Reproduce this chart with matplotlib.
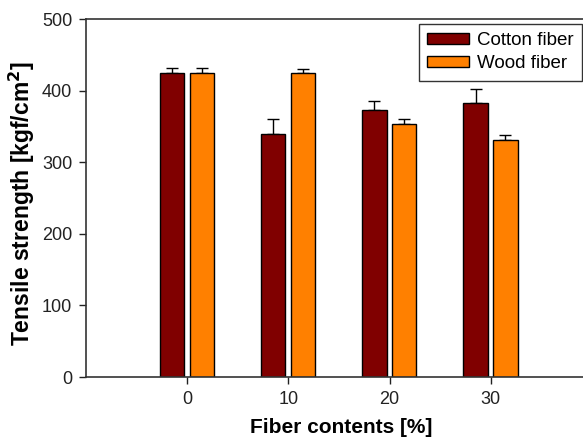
import matplotlib
matplotlib.use("Agg")
import matplotlib.pyplot as plt
import numpy as np

plt.rcParams['font.family'] = ['Liberation Sans', 'DejaVu Sans']

categories = ["0", "10", "20", "30"]
cotton = [425, 339, 373, 383]
cotton_err = [7, 22, 12, 19]
wood = [425, 425, 353, 331]
wood_err = [7, 5, 8, 7]

fig = plt.figure(figsize=(5.83, 4.38), dpi=100)
ax = fig.add_axes([86/583, 1 - 377/438, 506/583, (377 - 19)/438])

x = np.arange(len(categories))
w = 0.24
ax.bar(x - 0.15, cotton, w, color="#800000", edgecolor="black", linewidth=1.0,
       label="Cotton fiber", zorder=2)
ax.bar(x + 0.145, wood, w, color="#FF8000", edgecolor="black", linewidth=1.0,
       label="Wood fiber", zorder=2)
ax.errorbar(x - 0.15, cotton, yerr=[np.zeros(len(cotton)), cotton_err], fmt="none",
            ecolor="black", elinewidth=1.0, capsize=4, capthick=1.0, zorder=1)
ax.errorbar(x + 0.145, wood, yerr=[np.zeros(len(wood)), wood_err], fmt="none",
            ecolor="black", elinewidth=1.0, capsize=4, capthick=1.0, zorder=1)

ax.set_xlim(-1, 4)
ax.set_ylim(0, 500)
ax.set_xticks(x)
ax.set_xticklabels(categories)
ax.set_yticks([0, 100, 200, 300, 400, 500])
ax.tick_params(direction="out", labelsize=13, length=5, width=1.0, colors="#222222", pad=5)
for s in ax.spines.values():
    s.set_color("#333333")
    s.set_linewidth(1.2)

ax.set_xlabel("Fiber contents [%]", fontsize=15, fontweight="bold")
ax.set_ylabel("Tensile strength [kgf/cm$^\\mathbf{2}$]", fontsize=16.5, fontweight="bold")
ax.xaxis.set_label_coords((341 - 86) / 506, (377 - 418) / 358)
ax.yaxis.set_label_coords(-(86 - 37) / 506, (377 - 204) / 358)

leg = ax.legend(loc="upper right", bbox_to_anchor=(496/506, 1 - 5/358), fontsize=13.5,
                frameon=True, fancybox=False, edgecolor="black", handlelength=2.2,
                handleheight=0.5, borderpad=0.45, labelspacing=0.3, handletextpad=0.45,
                borderaxespad=0)
leg.get_frame().set_linewidth(1.0)

fig.savefig("out.png", dpi=100)
